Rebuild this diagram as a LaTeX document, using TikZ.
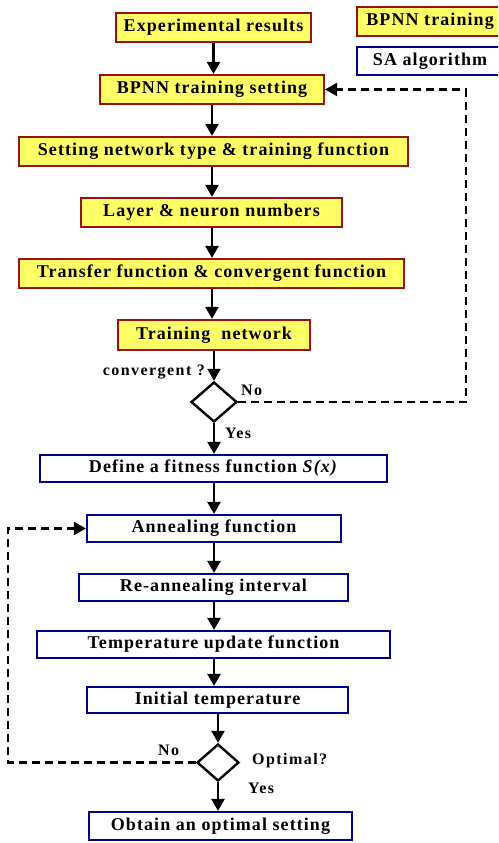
\documentclass[tikz,border=0pt]{standalone}
\usepackage{fontspec}
\setmainfont{Liberation Serif}[LetterSpace=6]
\usetikzlibrary{shapes.geometric,arrows.meta}
\definecolor{bpyellow}{HTML}{FFFF66}
\definecolor{bpred}{HTML}{991111}
\definecolor{sablue}{HTML}{000090}
\tikzset{
  bpbox/.style={draw=bpred, fill=bpyellow, line width=2.2pt, minimum height=29pt, inner sep=0pt, font=\fontsize{18}{20}\selectfont\bfseries},
  sabox/.style={draw=sablue, fill=white, line width=2.2pt, minimum height=27pt, inner sep=0pt, font=\fontsize{18}{20}\selectfont\bfseries},
  decide/.style={draw=black, line width=2.4pt, diamond, inner sep=0pt},
  flow/.style={line width=2.4pt, -{Triangle[length=12pt,width=13pt]}},
  loop/.style={line width=2.2pt, dash pattern=on 8pt off 5pt, -{Triangle[length=12pt,width=13pt]}},
  lbl/.style={font=\fontsize{16}{18}\selectfont\bfseries\addfontfeatures{LetterSpace=9}, inner sep=0pt}
}
\begin{document}
\begin{tikzpicture}[x=1pt,y=-1pt]
\useasboundingbox (0,0) rectangle (498,843);
\clip (0,0) rectangle (498,843);
% legend
\node[bpbox, minimum width=146pt, anchor=west] (legbp) at (356,21.5) {BPNN training};
\node[sabox, minimum width=146pt, minimum height=28pt, anchor=west] (legsa) at (356,61) {SA algorithm};
% BPNN training stages
\node[bpbox, minimum width=195pt] (e1) at (213.5,27.5) {Experimental results};
\node[bpbox, minimum width=224pt] (e2) at (212,89.5) {BPNN training setting};
\node[bpbox, minimum width=389pt] (e3) at (213.5,151.5) {Setting network type \& training function};
\node[bpbox, minimum width=261pt] (e4) at (211.5,212.5) {Layer \& neuron numbers};
\node[bpbox, minimum width=385pt] (e5) at (211.5,273.5) {Transfer function \& convergent function};
\node[bpbox, minimum width=192pt, minimum height=30pt] (e6) at (214,335) {Training\ \ network};
\node[decide, minimum width=46pt, minimum height=40pt] (d1) at (214,402) {};
% SA stages
\node[sabox, minimum width=347pt] (s1) at (213.5,468.5) {Define a fitness function \textit{S(x)}};
\node[sabox, minimum width=254pt] (s2) at (214,528.5) {Annealing function};
\node[sabox, minimum width=269pt] (s3) at (213.5,587.5) {Re-annealing interval};
\node[sabox, minimum width=353pt] (s4) at (213.5,644.5) {Temperature update function};
\node[sabox, minimum width=261pt, minimum height=26pt] (s5) at (217.5,700) {Initial temperature};
\node[decide, minimum width=42pt, minimum height=37pt] (d2) at (218,762.5) {};
\node[sabox, minimum width=263pt, minimum height=28pt] (s6) at (220.5,826) {Obtain an optimal setting};
% main flow
\draw[flow] (e1.south) -- (e1.south |- e2.north);
\draw[flow] (e2.south) -- (e2.south |- e3.north);
\draw[flow] (e2.south |- e3.south) -- (e2.south |- e4.north);
\draw[flow] (e2.south |- e4.south) -- (e2.south |- e5.north);
\draw[flow] (e2.south |- e5.south) -- (e2.south |- e6.north);
\draw[flow] (d1.north |- e6.south) -- (d1.north);
\draw[flow] (d1.south) -- (d1.south |- s1.north);
\draw[flow] (s2.north |- s1.south) -- (s2.north);
\draw[flow] (s2.south) -- (s2.south |- s3.north);
\draw[flow] (s2.south |- s3.south) -- (s2.south |- s4.north);
\draw[flow] (s2.south |- s4.south) -- (s2.south |- s5.north);
\draw[flow] (d2.north |- s5.south) -- (d2.north);
\draw[flow] (d2.south) -- (d2.south |- s6.north);
% feedback loops
\coordinate (r1) at (466,402);
\coordinate (r2) at (466,89.5);
\draw[loop] (d1.east) -- (r1) -- (r2) -- (e2.east);
\coordinate (l1) at (8,762.5);
\coordinate (l2) at (8,528.5);
\draw[loop] (d2.west) -- (l1) -- (l2) -- (s2.west);
% decision labels
\node[lbl, anchor=east] (q1) at (205,372) {convergent ?};
\node[lbl, anchor=west] (n1) at (241,390) {No};
\node[lbl, anchor=west] (y1) at (225,433) {Yes};
\node[lbl, anchor=west] (n2) at (158,750) {No};
\node[lbl, anchor=west] (q2) at (252,761) {Optimal?};
\node[lbl, anchor=west] (y2) at (248,788) {Yes};
\end{tikzpicture}
\end{document}
